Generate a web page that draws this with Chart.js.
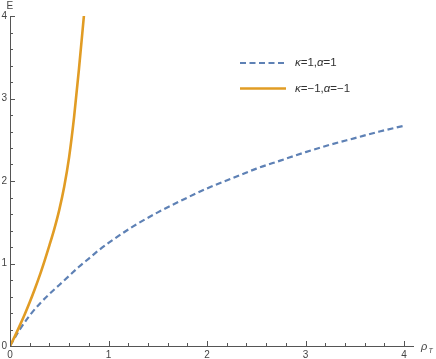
<!DOCTYPE html>
<html>
<head>
<meta charset="utf-8">
<script src="https://cdn.jsdelivr.net/npm/chart.js@4.4.0/dist/chart.umd.min.js"></script>
<style>
html, body { margin: 0; padding: 0; background: #fff; }
#wrap { width: 436px; height: 359px; }
</style>
</head>
<body>
<div id="wrap"><canvas id="myChart" width="436" height="359"></canvas></div>
<script>
// curve kappa=1, alpha=1 (dashed blue)
var rho_blue = [0, 0.1, 0.2, 0.3, 0.4, 0.5, 0.6, 0.7, 0.8, 0.9, 1.0, 1.25, 1.5, 1.75, 2.0, 2.25, 2.5, 2.75, 3.0, 3.25, 3.5, 3.75, 4.0];
var e_blue   = [0, 0.2, 0.37, 0.51, 0.63, 0.74, 0.85, 0.96, 1.06, 1.16, 1.25, 1.45, 1.62, 1.77, 1.91, 2.03, 2.15, 2.25, 2.35, 2.44, 2.52, 2.6, 2.67];

// curve kappa=-1, alpha=-1 (solid orange)
var rho_orange = [0, 0.05, 0.1, 0.15, 0.2, 0.25, 0.3, 0.35, 0.4, 0.45, 0.5, 0.55, 0.6, 0.65, 0.7, 0.75];
var e_orange   = [0, 0.12, 0.25, 0.385, 0.53, 0.685, 0.85, 1.03, 1.22, 1.42, 1.65, 1.93, 2.29, 2.77, 3.36, 4.0];

var labels = ['κ=1,α=1', 'κ=−1,α=−1'];
var x_tick_labels = [0, 1, 2, 3, 4];
var y_tick_labels = [0, 1, 2, 3, 4];
var minor_step = 0.2;

var blue = '#5e81b5';
var orange = '#e19c24';
var axisColor = '#555';

function toPoints(xs, ys) {
    var pts = [];
    for (var i = 0; i < xs.length; i++) {
        pts.push({x: xs[i], y: ys[i]});
    }
    return pts;
}

function makeTicks(from, to, step) {
    var t = [];
    var n = Math.round((to - from) / step);
    for (var i = 0; i <= n; i++) {
        t.push({value: Math.round((from + i * step) * 1000) / 1000});
    }
    return t;
}

function isLabelled(v, list) {
    return list.indexOf(v) !== -1;
}

// ticks that point into the plot, longer at labelled values
var inTicks = {
    id: 'inTicks',
    afterDraw: function(chart) {
        var ctx = chart.ctx;
        var xs = chart.scales.x, ys = chart.scales.y;
        var ca = chart.chartArea;
        ctx.save();
        ctx.strokeStyle = axisColor;
        ctx.lineWidth = 1;
        xs.ticks.forEach(function(t) {
            var px = Math.round(xs.getPixelForValue(t.value)) + 0.5;
            var len = isLabelled(t.value, x_tick_labels) ? 5 : 3;
            ctx.beginPath();
            ctx.moveTo(px, ca.bottom);
            ctx.lineTo(px, ca.bottom - len);
            ctx.stroke();
        });
        ys.ticks.forEach(function(t) {
            var py = Math.round(ys.getPixelForValue(t.value)) + 0.5;
            var len = isLabelled(t.value, y_tick_labels) ? 5 : 3;
            ctx.beginPath();
            ctx.moveTo(ca.left, py);
            ctx.lineTo(ca.left + len, py);
            ctx.stroke();
        });

        // axis names
        ctx.fillStyle = '#444';
        ctx.textBaseline = 'alphabetic';
        ctx.textAlign = 'left';
        ctx.font = '10px "Liberation Sans", Arial, sans-serif';
        ctx.fillText('E', 6.5, 8.5);
        ctx.font = 'italic 11px "Liberation Sans", Arial, sans-serif';
        ctx.fillText('ρ', 421, 350);
        ctx.font = 'italic 7px "Liberation Sans", Arial, sans-serif';
        ctx.fillText('T', 428.5, 352.5);
        ctx.restore();
    }
};

// legend drawn inside the plot area
var innerLegend = {
    id: 'innerLegend',
    afterDraw: function(chart) {
        var ctx = chart.ctx;
        var rows = [63, 88.5];
        ctx.save();
        chart.data.datasets.forEach(function(ds, i) {
            var y = rows[i];
            ctx.strokeStyle = ds.borderColor;
            ctx.lineWidth = ds.borderWidth;
            ctx.setLineDash(ds.borderDash || []);
            ctx.beginPath();
            ctx.moveTo(240, y);
            ctx.lineTo(286, y);
            ctx.stroke();
            ctx.setLineDash([]);
            var x = 295;
            ctx.fillStyle = '#333';
            ctx.textBaseline = 'middle';
            ctx.textAlign = 'left';
            for (var c = 0; c < ds.label.length; c++) {
                var ch = ds.label[c];
                var greek = (ch === 'κ' || ch === 'α');
                ctx.font = (greek ? 'italic ' : '') + '11.5px "Liberation Sans", Arial, sans-serif';
                ctx.fillText(ch, x, y);
                x += ctx.measureText(ch).width;
            }
        });
        ctx.restore();
    }
};

var ctx = document.getElementById('myChart').getContext('2d');

var chart = new Chart(ctx, {
    type: 'scatter',
    data: {
        datasets: [{
            label: labels[0],
            data: toPoints(rho_blue, e_blue),
            showLine: true,
            borderColor: blue,
            borderWidth: 2.2,
            borderDash: [6, 3.5],
            pointRadius: 0,
            cubicInterpolationMode: 'monotone',
            order: 2
        }, {
            label: labels[1],
            data: toPoints(rho_orange, e_orange),
            showLine: true,
            borderColor: orange,
            borderWidth: 2.6,
            pointRadius: 0,
            cubicInterpolationMode: 'monotone',
            order: 1
        }]
    },
    options: {
        responsive: false,
        animation: false,
        layout: { padding: { left: 0, right: 23, top: 16, bottom: 0 } },
        plugins: {
            legend: { display: false },
            tooltip: { enabled: false }
        },
        scales: {
            x: {
                type: 'linear',
                min: 0,
                max: 4.09,
                afterBuildTicks: function(scale) { scale.ticks = makeTicks(0, 4, minor_step); },
                afterFit: function(scale) { scale.height = 13; },
                grid: { display: true, drawOnChartArea: false, drawTicks: false },
                border: { display: true, color: axisColor, width: 1 },
                ticks: {
                    padding: 3,
                    color: '#444',
                    font: { family: '"Liberation Sans", Arial, sans-serif', size: 10 },
                    maxRotation: 0,
                    autoSkip: false,
                    callback: function(v) { return isLabelled(v, x_tick_labels) ? String(v) : ''; }
                }
            },
            y: {
                type: 'linear',
                min: 0,
                max: 4,
                afterBuildTicks: function(scale) { scale.ticks = makeTicks(0, 4, minor_step); },
                afterFit: function(scale) { scale.width = 10; },
                grid: { display: true, drawOnChartArea: false, drawTicks: false },
                border: { display: true, color: axisColor, width: 1 },
                ticks: {
                    padding: 3,
                    color: '#444',
                    font: { family: '"Liberation Sans", Arial, sans-serif', size: 10 },
                    autoSkip: false,
                    callback: function(v) { return isLabelled(v, y_tick_labels) ? String(v) : ''; }
                }
            }
        }
    },
    plugins: [inTicks, innerLegend]
});
</script>
</body>
</html>
